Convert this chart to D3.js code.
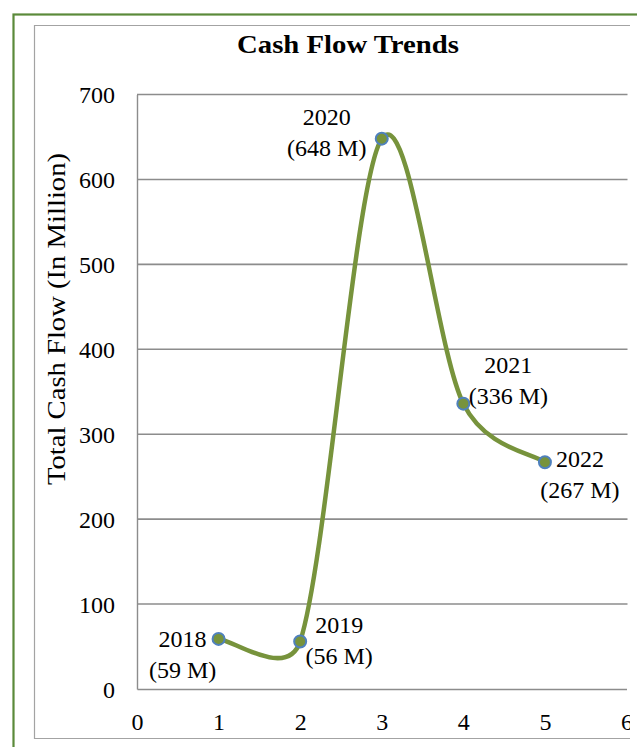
<!DOCTYPE html>
<html>
<head>
<meta charset="utf-8">
<script src="https://cdn.jsdelivr.net/npm/d3@7"></script>
<style>
  html, body { margin: 0; padding: 0; background: #fff; }
  svg { display: block; }
  text { font-family: "Palatino Linotype", "Book Antiqua", Palatino, "Liberation Serif", serif; fill: #000; }
</style>
</head>
<body>
<svg id="chart" width="637" height="747"></svg>
<script>
// Cash flow per year (millions)
const years = ["2018", "2019", "2020", "2021", "2022"];
const xPositions = [1, 2, 3, 4, 5];
const cashFlow = [59, 56, 648, 336, 267];
const xTicks = [0, 1, 2, 3, 4, 5, 6];
const yTicks = [0, 100, 200, 300, 400, 500, 600, 700];

// Label placement around each point: centre offset and first-line baseline offset
const labelDx = [-36, 39, -55, 45, 35];
const labelDy = [8, -8, -14, -31, 5];
const lineGap = 31;

// Spreadsheet-style smoothed line: Bezier segments with 1/6 tangents,
// shortened to half the segment length where they would overshoot.
function curveSmoothed(context) {
  let pts = [];
  return {
    areaStart() {}, areaEnd() {},
    lineStart() { pts = []; },
    point(px, py) { pts.push([+px, +py]); },
    lineEnd() {
      const n = pts.length;
      if (!n) return;
      context.moveTo(pts[0][0], pts[0][1]);
      const dist = (a, b) => Math.hypot(a[0] - b[0], a[1] - b[1]);
      for (let i = 0; i < n - 1; i++) {
        const p0 = pts[Math.max(i - 1, 0)], p1 = pts[i], p2 = pts[i + 1], p3 = pts[Math.min(i + 2, n - 1)];
        const d12 = dist(p1, p2), d02 = dist(p0, p2), d13 = dist(p1, p3);
        const f1 = d02 / 6 < d12 / 2 ? 1 / 6 : d12 / 2 / d02;
        const f2 = d13 / 6 < d12 / 2 ? 1 / 6 : d12 / 2 / d13;
        context.bezierCurveTo(
          p1[0] + f1 * (p2[0] - p0[0]), p1[1] + f1 * (p2[1] - p0[1]),
          p2[0] - f2 * (p3[0] - p1[0]), p2[1] - f2 * (p3[1] - p1[1]),
          p2[0], p2[1]);
      }
    }
  };
}

const svg = d3.select("#chart");

// Outer green frame (continues past the right and bottom edges)
svg.append("rect")
  .attr("x", 13.5).attr("y", 14.5)
  .attr("width", 700).attr("height", 800)
  .attr("fill", "none").attr("stroke", "#5b8a3a").attr("stroke-width", 2.2);

// Inner chart frame (top, left, bottom edges)
const frame = { left: 34.5, top: 25.5, right: 630, bottom: 738.5 };
svg.append("path")
  .attr("d", `M${frame.right},${frame.top}H${frame.left}V${frame.bottom}H${frame.right}`)
  .attr("fill", "none").attr("stroke", "#a3a3a3").attr("stroke-width", 1.2);

svg.append("clipPath").attr("id", "frameClip")
  .append("rect")
  .attr("x", frame.left).attr("y", frame.top)
  .attr("width", frame.right - frame.left).attr("height", frame.bottom - frame.top);

const g = svg.append("g").attr("clip-path", "url(#frameClip)");

const x = d3.scaleLinear().domain([0, 6]).range([137, 626.5]);
const y = d3.scaleLinear().domain([0, 700]).range([689, 94.5]);

// Horizontal gridlines
g.append("g")
  .selectAll("line")
  .data(yTicks.filter(d => d > 0))
  .join("line")
  .attr("x1", x(0)).attr("x2", 627.5)
  .attr("y1", d => y(d)).attr("y2", d => y(d))
  .attr("stroke", "#8c8c8c").attr("stroke-width", 1.6);

// Axes
const yAxis = g.append("g")
  .attr("transform", `translate(${x(0)},0)`)
  .call(d3.axisLeft(y).tickValues(yTicks).tickSize(0).tickPadding(22).tickFormat(d3.format("d")));
yAxis.select(".domain").attr("stroke", "#8c8c8c").attr("stroke-width", 1.4);
yAxis.selectAll("text").attr("font-size", 24).attr("dy", "0.34em")
  .style("font-family", "\"Liberation Serif\", serif");

const xAxis = g.append("g")
  .attr("transform", `translate(0,${y(0)})`)
  .call(d3.axisBottom(x).tickValues(xTicks).tickSize(0).tickPadding(0).tickFormat(d3.format("d")));
xAxis.select(".domain").attr("stroke", "#8c8c8c").attr("stroke-width", 1.6);
xAxis.selectAll("text").attr("font-size", 24).attr("dy", null).attr("y", 41)
  .style("font-family", "\"Liberation Serif\", serif");

// Title
g.append("text")
  .attr("x", 348).attr("y", 53)
  .attr("text-anchor", "middle")
  .attr("font-size", 25).attr("font-weight", "bold")
  .attr("textLength", 222).attr("lengthAdjust", "spacingAndGlyphs")
  .text("Cash Flow Trends");

// Y axis title
g.append("text")
  .attr("transform", "translate(65,319) rotate(-90)")
  .attr("text-anchor", "middle")
  .attr("font-size", 25)
  .attr("textLength", 332).attr("lengthAdjust", "spacingAndGlyphs")
  .text("Total Cash Flow (In Million)");

// Smoothed series line
const pts = xPositions.map((d, i) => ({ x: d, v: cashFlow[i], year: years[i], i }));
const line = d3.line()
  .x(d => x(d.x))
  .y(d => y(d.v))
  .curve(curveSmoothed);

g.append("path")
  .datum(pts)
  .attr("d", line)
  .attr("fill", "none")
  .attr("stroke", "#77933c")
  .attr("stroke-width", 4.5)
  .attr("stroke-linecap", "round");

// Point markers
g.append("g")
  .selectAll("circle")
  .data(pts)
  .join("circle")
  .attr("cx", d => x(d.x)).attr("cy", d => y(d.v))
  .attr("r", 6)
  .attr("fill", "#77933c")
  .attr("stroke", "#4f81bd").attr("stroke-width", 2);

// Data labels: year and value
const labels = g.append("g")
  .selectAll("text")
  .data(pts)
  .join("text")
  .attr("text-anchor", "middle")
  .attr("font-size", 24)
  .style("font-family", "\"Liberation Serif\", serif");

labels.append("tspan")
  .attr("x", d => x(d.x) + labelDx[d.i])
  .attr("y", d => y(d.v) + labelDy[d.i])
  .text(d => d.year);
labels.append("tspan")
  .attr("x", d => x(d.x) + labelDx[d.i])
  .attr("y", d => y(d.v) + labelDy[d.i] + lineGap)
  .text(d => `(${d.v} M)`);
</script>
</body>
</html>
